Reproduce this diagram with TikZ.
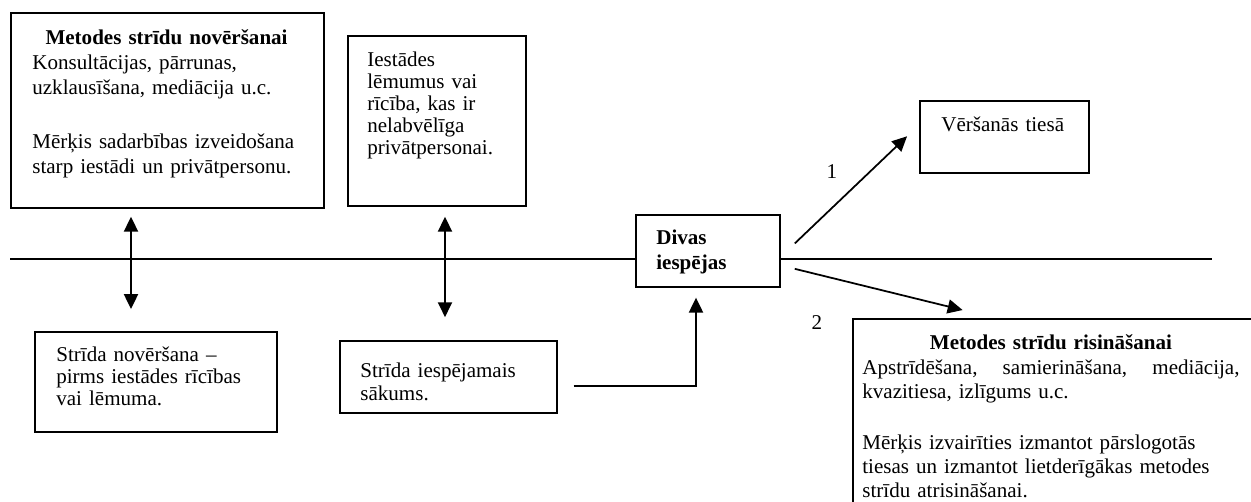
\documentclass[tikz,border=0pt]{standalone}
\usepackage{fontspec}
\setmainfont{Liberation Serif}
\usepackage{tikz}
\usetikzlibrary{arrows.meta}
\tikzstyle{frameNode}=[rectangle, draw=black, line width=1pt, anchor=north west, inner sep=0pt]
\tikzstyle{textNode}=[anchor=base west, inner sep=0pt, align=left, text width=150pt]
\tikzstyle{numNode}=[inner sep=0pt, font=\fontsize{12}{14}\selectfont]
\tikzstyle{arr}=[-{Triangle[length=8.5pt, width=8pt]}, line width=1pt]
\tikzstyle{biarr}=[{Triangle[length=8.5pt, width=8pt]}-{Triangle[length=8.5pt, width=8pt]}, line width=1pt]

\begin{document}
\begin{tikzpicture}[x=0.57pt, y=-0.57pt]
\path[use as bounding box] (0,0) rectangle (1251,502);
\clip (0,0) rectangle (1251,502);
% frames
\node[frameNode, minimum width=178.4pt, minimum height=111.2pt] (meth1) at (10,12) {};
\node[frameNode, minimum width=101.5pt, minimum height=96.9pt] (decis) at (347,35) {};
\node[frameNode, minimum width=82.1pt, minimum height=41pt] (two) at (635,214) {};
\node[frameNode, minimum width=96.3pt, minimum height=41pt] (court) at (919,100) {};
\node[frameNode, minimum width=137.9pt, minimum height=57pt] (prev) at (34,331) {};
\node[frameNode, minimum width=123.7pt, minimum height=41pt] (start) at (339,340) {};
\node[frameNode, minimum width=239.4pt, minimum height=125.4pt] (res) at (852,318) {};
% texts
\node[textNode, text width=153pt, font=\fontsize{12}{14.25}\selectfont] (meth1t) at (32,45)
  {{\centering\bfseries Metodes strīdu novēršanai\par}
   Konsultācijas, pārrunas,\\ uzklausīšana, mediācija u.c.\\[16pt]
   Mērķis sadarbības izveidošana\\ starp iestādi un privātpersonu.};
\node[textNode, text width=90pt, font=\fontsize{12}{12.4}\selectfont] (decist) at (367,67)
  {Iestādes\\ lēmumus vai\\ rīcība, kas ir\\ nelabvēlīga\\ privātpersonai.};
\node[textNode, text width=70pt, font=\fontsize{12}{13.7}\selectfont\bfseries] (twot) at (656,245) {Divas\\ iespējas};
\node[textNode, text width=90pt, font=\fontsize{12}{14}\selectfont] (courtt) at (941,132) {Vēršanās tiesā};
\node[textNode, text width=125pt, font=\fontsize{12}{12.4}\selectfont] (prevt) at (56,362)
  {Strīda novēršana –\\ pirms iestādes rīcības\\ vai lēmuma.};
\node[textNode, text width=110pt, font=\fontsize{12}{13.1}\selectfont] (startt) at (360,378) {Strīda iespējamais\\ sākums.};
\node[textNode, text width=215pt, font=\fontsize{12}{13.7}\selectfont] (rest) at (862,350)
  {{\centering\bfseries Metodes strīdu risināšanai\par}
   Apstrīdēšana,\hfill samierināšana,\hfill mediācija,\\ kvazitiesa, izlīgums u.c.\\[15.4pt]
   Mērķis izvairīties izmantot pārslogotās\\ tiesas un izmantot lietderīgākas metodes\\ strīdu atrisināšanai.};
\node[numNode] (one) at (832,172) {1};
\node[numNode] (twonum) at (817,323) {2};
% axis
\coordinate (axisL) at (10,259);
\coordinate (axisR) at (1212,259);
\draw[line width=1pt] (axisL) -- (axisL -| two.west);
\draw[line width=1pt] (two.east |- axisR) -- (axisR);
% arrows
\draw[biarr, shorten <=4.5pt, shorten >=12.5pt] (131,0 |- meth1.south) -- (131,0 |- prev.north);
\draw[biarr, shorten <=5.7pt, shorten >=13pt] (445,0 |- decis.south) -- (445,0 |- start.north);
\draw[arr, shorten <=9pt, shorten >=5.7pt] (start.east |- 0,386) -| (696,0 |- two.south);
\draw[arr, shorten <=11pt, shorten >=9.4pt] ([yshift=-3.4pt]two.east) -- ([yshift=6.8pt]court.west);
\draw[arr, shorten <=8.2pt, shorten >=19pt] ([yshift=-8.3pt]two.east) -- ([xshift=81.5pt]res.north west);
\end{tikzpicture}
\end{document}
